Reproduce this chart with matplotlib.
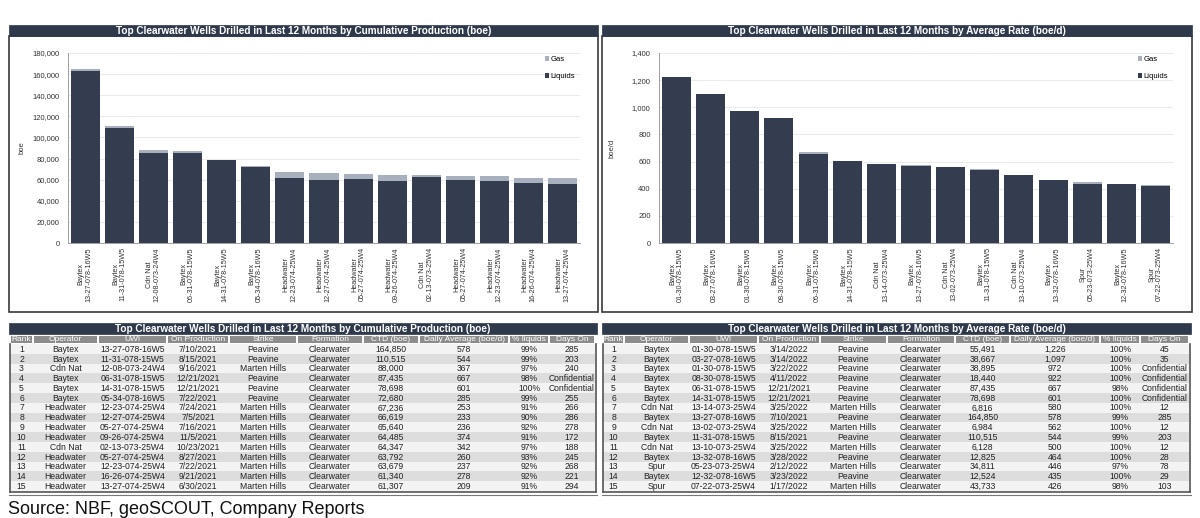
import matplotlib
matplotlib.use("Agg")
import matplotlib.pyplot as plt
from matplotlib.patches import Rectangle
from matplotlib.ticker import FuncFormatter, MultipleLocator

plt.rcParams['font.family'] = ['Liberation Sans', 'DejaVu Sans']

W, H = 1200, 518
NAVY = "#2e394b"
BAR = "#333d4f"
GAS = "#a9b0bd"
HDR = "#8c8c8c"
ROW_A = "#f3f3f3"
ROW_B = "#dddddd"

# ---- cumulative production (left) ----
cum_operator = ["Baytex", "Baytex", "Cdn Nat", "Baytex", "Baytex", "Baytex", "Headwater", "Headwater",
                "Headwater", "Headwater", "Cdn Nat", "Headwater", "Headwater", "Headwater", "Headwater"]
cum_uwi = ["13-27-078-16W5", "11-31-078-15W5", "12-08-073-24W4", "06-31-078-15W5", "14-31-078-15W5",
           "05-34-078-16W5", "12-23-074-25W4", "12-27-074-25W4", "05-27-074-25W4", "09-26-074-25W4",
           "02-13-073-25W4", "05-27-074-25W4", "12-23-074-25W4", "16-26-074-25W4", "13-27-074-25W4"]
cum_onprod = ["7/10/2021", "8/15/2021", "9/16/2021", "12/21/2021", "12/21/2021", "7/22/2021", "7/24/2021",
              "7/5/2021", "7/16/2021", "11/5/2021", "10/23/2021", "8/27/2021", "7/22/2021", "9/21/2021",
              "6/30/2021"]
cum_strike = ["Peavine", "Peavine", "Marten Hills", "Peavine", "Peavine", "Peavine"] + ["Marten Hills"] * 9
cum_ctd = ["164,850", "110,515", "88,000", "87,435", "78,698", "72,680", "67,236", "66,619", "65,640",
           "64,485", "64,347", "63,792", "63,679", "61,340", "61,307"]
cum_daily = ["578", "544", "367", "667", "601", "285", "253", "233", "236", "374", "342", "260", "237",
             "278", "209"]
cum_pct = ["99%", "99%", "97%", "98%", "100%", "99%", "91%", "90%", "92%", "91%", "97%", "93%", "92%",
           "92%", "91%"]
cum_days = ["285", "203", "240", "Confidential", "Confidential", "255", "266", "286", "278", "172", "188",
            "245", "268", "221", "294"]
cum_liquids = [162500, 109300, 85400, 85700, 78700, 72000, 61200, 60000, 60400, 58700, 62400, 59300,
               58600, 56400, 55800]
cum_gas = [2300, 1200, 2600, 1700, 0, 700, 6000, 6600, 5200, 5800, 1900, 4500, 5100, 4900, 5500]

# ---- average rate (right) ----
rate_operator = ["Baytex", "Baytex", "Baytex", "Baytex", "Baytex", "Baytex", "Cdn Nat", "Baytex",
                 "Cdn Nat", "Baytex", "Cdn Nat", "Baytex", "Spur", "Baytex", "Spur"]
rate_uwi = ["01-30-078-15W5", "03-27-078-16W5", "01-30-078-15W5", "08-30-078-15W5", "06-31-078-15W5",
            "14-31-078-15W5", "13-14-073-25W4", "13-27-078-16W5", "13-02-073-25W4", "11-31-078-15W5",
            "13-10-073-25W4", "13-32-078-16W5", "05-23-073-25W4", "12-32-078-16W5", "07-22-073-25W4"]
rate_onprod = ["3/14/2022", "3/14/2022", "3/22/2022", "4/11/2022", "12/21/2021", "12/21/2021", "3/25/2022",
               "7/10/2021", "3/25/2022", "8/15/2021", "3/25/2022", "3/28/2022", "2/12/2022", "3/23/2022",
               "1/17/2022"]
rate_strike = ["Peavine"] * 6 + ["Marten Hills", "Peavine", "Marten Hills", "Peavine", "Marten Hills",
                                 "Peavine", "Marten Hills", "Peavine", "Marten Hills"]
rate_ctd = ["55,491", "38,667", "38,895", "18,440", "87,435", "78,698", "6,816", "164,850", "6,984",
            "110,515", "6,128", "12,825", "34,811", "12,524", "43,733"]
rate_daily = ["1,226", "1,097", "972", "922", "667", "601", "580", "578", "562", "544", "500", "464",
              "446", "435", "426"]
rate_pct = ["100%", "100%", "100%", "100%", "98%", "100%", "100%", "99%", "100%", "99%", "100%", "100%",
            "97%", "100%", "98%"]
rate_days = ["45", "35", "Confidential", "Confidential", "Confidential", "Confidential", "12", "285", "12",
             "203", "12", "28", "78", "29", "103"]
rate_liquids = [1226, 1097, 972, 922, 654, 601, 580, 570, 562, 539, 500, 464, 433, 435, 417]
rate_gas = [0, 0, 0, 0, 13, 0, 0, 8, 0, 5, 0, 0, 13, 0, 9]

headers = ["Rank", "Operator", "UWI", "On Production", "Strike", "Formation", "CTD (boe)",
           "Daily Average (boe/d)", "% liquids", "Days On"]
ranks = [str(i) for i in range(1, 16)]
formation = ["Clearwater"] * 15

T_CUM_CHART = "Top Clearwater Wells Drilled in Last 12 Months by Cumulative Production (boe)"
T_RATE_CHART = "Top Clearwater Wells Drilled in Last 12 Months by Average Rate (boe/d)"


def px(x0, y0, x1, y1):
    return [x0 / W, 1 - y1 / H, (x1 - x0) / W, (y1 - y0) / H]


fig = plt.figure(figsize=(W / 100, H / 100), dpi=100)
ov = fig.add_axes([0, 0, 1, 1], zorder=0)
ov.set_xlim(0, W); ov.set_ylim(H, 0); ov.axis("off")


def panel(x0, x1, title):
    ov.add_patch(Rectangle((x0, 36), x1 - x0, 276, fc="white", ec="#3a3a3a", lw=1.2))
    ov.add_patch(Rectangle((x0, 25), x1 - x0, 11, fc=NAVY, ec=NAVY, lw=0.5))
    ov.text((x0 + x1) / 2, 30.8, title, color="white", fontsize=7.2, fontweight="bold",
            ha="center", va="center")


def chart(rect, operators, uwis, liquids, gas, ymax, step, ylabel, fmt, lpad):
    ax = fig.add_axes(px(*rect), zorder=2)
    ax.patch.set_alpha(0)
    xs = range(len(liquids))
    b1 = ax.bar(xs, liquids, width=0.85, color=BAR, label="Liquids", zorder=3)
    b2 = ax.bar(xs, gas, bottom=liquids, width=0.85, color=GAS, label="Gas", zorder=3)
    ax.set_xlim(-0.5, len(liquids) - 0.5)
    ax.set_ylim(0, ymax)
    ax.yaxis.set_major_locator(MultipleLocator(step))
    ax.yaxis.set_major_formatter(FuncFormatter(fmt))
    ax.grid(axis="y", color="#e6e6e6", lw=0.6, zorder=0)
    ax.set_xticks(list(xs))
    ax.set_xticklabels([f"{o}\n{u}" for o, u in zip(operators, uwis)], rotation=90,
                       fontsize=5.2, color="#333333", linespacing=1.1)
    ax.tick_params(axis="x", length=0, pad=3)
    ax.tick_params(axis="y", length=0, labelsize=5.5, labelcolor="#333333", pad=6)
    for s in ["top", "right"]:
        ax.spines[s].set_visible(False)
    for s in ["left", "bottom"]:
        ax.spines[s].set_color("#a0a0a0"); ax.spines[s].set_linewidth(0.7)
    ax.set_ylabel(ylabel, fontsize=5.5, color="#333333", labelpad=lpad)
    ax.legend([b2, b1], ["Gas", "Liquids"], loc="upper left", frameon=False,
              bbox_to_anchor=(0.925, 1.0), fontsize=5.5, handlelength=0.55, handleheight=0.55,
              handletextpad=0.2, labelspacing=1.3, borderaxespad=0)
    return ax


panel(9, 598, T_CUM_CHART)
panel(602, 1192, T_RATE_CHART)
chart((68, 53, 580, 243), cum_operator, cum_uwi, cum_liquids, cum_gas, 180000, 20000, "boe",
      lambda v, p: f"{v:,.0f}", 5)
chart((659, 53, 1173, 243), rate_operator, rate_uwi, rate_liquids, rate_gas, 1400, 200, "boe/d",
      lambda v, p: f"{v:,.0f}", 12)


def table(edges, title, cols):
    x0, x1 = edges[0] - 1, edges[-1] + 2
    ov.add_patch(Rectangle((x0, 323), x1 - x0, 11, fc=NAVY, ec=NAVY, lw=0.5))
    ov.text((x0 + x1) / 2, 328.8, title, color="white", fontsize=7.2, fontweight="bold",
            ha="center", va="center")
    for i, h in enumerate(headers):
        a, b = edges[i], edges[i + 1]
        ov.add_patch(Rectangle((a + 0.8, 335.5), b - a - 1.6, 7.5, fc=HDR, ec="none"))
        ov.text((a + b) / 2, 339.4, h, color="white", fontsize=6, ha="center", va="center")
    top, pitch = 344, 9.8
    for r in range(15):
        y = top + r * pitch
        ov.add_patch(Rectangle((edges[0], y), edges[-1] - edges[0], pitch,
                               fc=ROW_A if r % 2 == 0 else ROW_B, ec="none"))
        for i, col in enumerate(cols):
            ov.text((edges[i] + edges[i + 1]) / 2, y + pitch / 2 + 0.3, col[r], color="#222222",
                    fontsize=6.2, ha="center", va="center")
    bottom = top + 15 * pitch
    ov.plot([edges[0], edges[0]], [343.5, bottom + 1], color="#555555", lw=1.2)
    ov.plot([edges[-1] + 1, edges[-1] + 1], [343.5, bottom + 1], color="#555555", lw=1.2)
    ov.plot([edges[0], edges[-1] + 1], [bottom + 1, bottom + 1], color="#555555", lw=1.2)
    ov.plot([edges[0] - 1, edges[-1] + 2], [bottom + 4, bottom + 4], color="#777777", lw=0.8)


table([10, 33, 98, 167, 229, 297, 363, 419, 509, 549, 595], T_CUM_CHART,
      [ranks, cum_operator, cum_uwi, cum_onprod, cum_strike, formation, cum_ctd, cum_daily,
       cum_pct, cum_days])
table([603, 624, 689, 758, 820, 887, 955, 1010, 1100, 1140, 1189], T_RATE_CHART,
      [ranks, rate_operator, rate_uwi, rate_onprod, rate_strike, formation, rate_ctd, rate_daily,
       rate_pct, rate_days])

ov.text(8, 509, "Source: NBF, geoSCOUT, Company Reports", fontsize=13, color="#111111",
        ha="left", va="center")

fig.savefig("out.png", dpi=100)
